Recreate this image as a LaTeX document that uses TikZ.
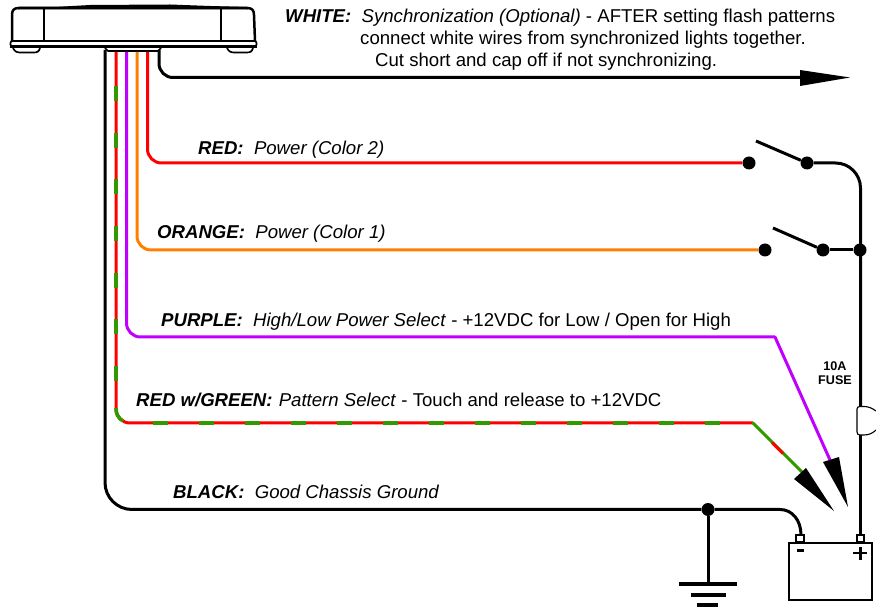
\documentclass[tikz,border=0pt]{standalone}
\usepackage{fontspec}
\setmainfont{Liberation Sans}
\tikzset{
  wire/.style={line width=3pt,rounded corners=14pt},
  lever/.style={line width=3pt},
  stripe/.style={line width=3.6pt,wiregreen},
  contact/.style={circle,fill=black,inner sep=0pt,minimum size=13pt},
  label/.style={anchor=base west,inner sep=0pt,font=\fontsize{18.6}{22}\selectfont},
  bighead/.style={fill=black,draw=none},
  post/.style={draw=black,line width=1.2pt,fill=white},
}
\definecolor{wirered}{RGB}{255,0,0}
\definecolor{wiregreen}{RGB}{51,153,0}
\definecolor{wirepurple}{RGB}{191,0,255}
\definecolor{wireorange}{RGB}{255,128,0}
\begin{document}
\begin{tikzpicture}[x=1pt,y=-1pt]
\useasboundingbox (0,0) rectangle (876,609);
% light housing
\draw[line width=2.5pt] (12,41) -- (12,15) .. controls (12,10) and (14,8) .. (19,8) -- (247,8) .. controls (252,8) and (254,10) .. (254,15) -- (255,41);
\fill (18,7) -- (55,7) -- (90,5) -- (170,4.5) -- (210,6) -- (248,7) -- (248,9.5) -- (18,9.5) -- cycle;
\draw[line width=1.3pt] (44,9) -- (44,41);
\draw[line width=1.3pt] (221,9) -- (221,41);
\draw[line width=1.7pt,rounded corners=2pt] (10.5,41) rectangle (256.5,46.5);
\fill (10,45.5) rectangle (257,48);
\draw[line width=1.7pt] (13,48) .. controls (15,52) and (17,52.5) .. (21,52.5) -- (33,52.5) .. controls (37,52.5) and (39,52) .. (40,48);
\draw[line width=1.7pt] (227,48) .. controls (229,52) and (231,52.5) .. (235,52.5) -- (246,52.5) .. controls (250,52.5) and (252,52) .. (253,48);
\draw[line width=1.7pt] (105,48) -- (108,51) -- (158,51) -- (161,48);
% wires
\coordinate (whitetop) at (159,50);
\coordinate (whiteend) at (802,77.5);
\node[contact] (redA) at (749,163) {};
\node[contact] (redB) at (807,163) {};
\node[contact] (orangeA) at (765,250) {};
\node[contact] (orangeB) at (823,250) {};
\node[contact] (feed) at (860,250) {};
\node[contact] (chassis) at (708,509.5) {};
\coordinate (redtop) at (147.5,52);
\coordinate (orangetop) at (137,52);
\coordinate (purpletop) at (126.5,52);
\coordinate (rgtop) at (116,52);
\coordinate (blacktop) at (105,50);
\coordinate (purplebend) at (775,337);
\coordinate (purpleend) at (830,460);
\coordinate (rgbend) at (753,423);
\coordinate (rgend) at (802,472);
\coordinate (leverA) at (756,141);
\coordinate (leverB) at (773,228);
\coordinate (minuspost) at (801,535);
\coordinate (pluspost) at (860.5,535);
\coordinate (fuseA) at (860.5,407);
\coordinate (fuseB) at (860.5,435);
\draw[wire] (whitetop) |- (whiteend);
\draw[wire,wirered] (redtop) |- (redA);
\draw[wire,wireorange] (orangetop) |- (orangeA);
\draw[wire,wirepurple] (purpletop) |- (purplebend);
\draw[lever,wirepurple,line cap=round] (purplebend) -- (purpleend);
\draw[wire,wirered] (rgtop) |- (rgbend);
\foreach \k in {0,...,6}
  \draw[stripe] (116,86+46.7*\k) -- (116,101+46.7*\k);
\draw[stripe] (116,408) .. controls (116,414) and (118,418) .. (123,421);
\foreach \k in {0,...,12}
  \draw[stripe] (153+46*\k,423) -- (168+46*\k,423);
\draw[lever,wiregreen,line cap=round] (rgbend) -- (rgend);
\draw[lever,wirered] (772,442.5) -- (783,453.5);
\draw[wire,rounded corners=27pt] (blacktop) |- (chassis);
\draw[lever] (chassis) -- (780,509.5) .. controls (792,509.5) and (801,520) .. (minuspost);
\draw[lever] (leverA) -- (redB);
\draw[lever] (leverB) -- (orangeB);
\draw[wire,rounded corners=25pt] (redB) -| (fuseA);
\draw[lever] (orangeB) -- (feed);
\draw[lever] (fuseB) -- (pluspost);
\draw[lever] (chassis) -- (708,584);
% arrow heads
\fill[bighead] (800,70) -- (850,77.5) -- (800,86) -- cycle;
\fill[bighead] (823,462) -- (848,507) -- (839,457) -- cycle;
\fill[bighead] (794,479) -- (834,511) -- (806,468) -- cycle;
% fuse
\draw[line width=1.1pt] (876,411) .. controls (872,408) and (868,406.5) .. (864,406.5) -- (860,406.5) .. controls (858,406.5) and (857,407.5) .. (857,409) -- (857,432) .. controls (857,434) and (858,435) .. (860,435) -- (864,435) .. controls (869,435) and (873,433) .. (876,430);
% ground
\fill (679,582) rectangle (737,586);
\fill (691,593) rectangle (726,597);
\fill (697,603) rectangle (718,607);
% battery
\draw[post] (796,535) rectangle (804,542);
\draw[post] (857,535) rectangle (864,542);
\draw[line width=1.2pt] (789,543) rectangle (872,600);
\fill (797,549) rectangle (804,552);
\draw[line width=2.4pt] (853,553) -- (867,553);
\draw[line width=2.4pt] (860.5,547) -- (860.5,560);
% texts
\node[label] (whitelabel) at (285,23) {\textbf{\textit{WHITE:}}\ \ \textit{Synchronization (Optional)} - AFTER setting flash patterns};
\node[label] (whitetwo) at (360,44.5) {connect white wires from synchronized lights together.};
\node[label] (whitethree) at (375,66.5) {Cut short and cap off if not synchronizing.};
\node[label] (redlabel) at (198,154.5) {\textbf{\textit{RED:}}\ \ \textit{Power (Color 2)}};
\node[label] (orangelabel) at (157,238.5) {\textbf{\textit{ORANGE:}}\ \ \textit{Power (Color 1)}};
\node[label] (purplelabel) at (161,326.5) {\textbf{\textit{PURPLE:}}\ \ \textit{High/Low Power Select} - +12VDC for Low / Open for High};
\node[label] (rglabel) at (136,406.5) {\textbf{\textit{RED w/GREEN:}}\hspace{1pt} \textit{Pattern Select} - Touch and release to +12VDC};
\node[label] (blacklabel) at (173,498.5) {\textbf{\textit{BLACK:}}\ \ \textit{Good Chassis Ground}};
\node[font=\bfseries\fontsize{12.6}{14.5}\selectfont,align=center,inner sep=0pt] (fuselabel) at (835,373) {10A\\FUSE};
\end{tikzpicture}
\end{document}
